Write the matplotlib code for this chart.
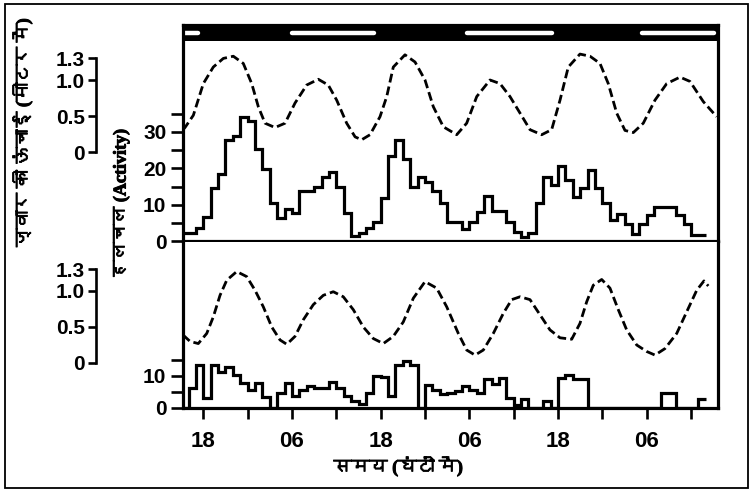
import numpy as np
import matplotlib
matplotlib.use("Agg")
import matplotlib.pyplot as plt
import matplotlib.patheffects as pe
from matplotlib import font_manager, ft2font
from matplotlib.patches import Rectangle

# ---------------- data (time in hours, 0 = first 18:00) ----------------
bin_start = np.arange(-3, 68)
upper_activity = [2.4, 2.4, 3.7, 6.6, 14.6, 18.5, 27.8, 29.0, 34.2, 33.0,
                  25.2, 19.8, 10.5, 6.5, 8.9, 7.8, 13.8, 13.8, 14.8, 17.7,
                  18.9, 14.9, 7.8, 1.5, 2.4, 3.7, 5.3, 11.8, 23.3, 27.8,
                  22.5, 15.0, 17.8, 16.4, 13.8, 10.5, 5.4, 5.4, 3.5, 5.4,
                  8.2, 12.5, 8.4, 8.4, 5.3, 2.6, 1.2, 2.2, 10.5, 17.6,
                  15.5, 20.7, 16.8, 12.3, 14.6, 19.6, 14.6, 10.5, 5.9, 7.5,
                  4.8, 2.1, 4.9, 7.3, 9.5, 9.5, 9.5, 7.3, 4.9, 1.8, 1.8]
lower_activity = [0.0, 6.1, 13.2, 3.1, 13.2, 11.2, 12.6, 10.2, 7.6, 5.6,
                  7.6, 3.3, 0.0, 4.6, 7.6, 3.6, 5.6, 6.6, 6.1, 6.1,
                  8.1, 6.1, 3.6, 2.0, 1.0, 4.6, 10.0, 9.4, 3.6, 13.2,
                  14.7, 13.2, 0.0, 7.1, 5.6, 4.1, 4.6, 5.3, 6.8, 5.6,
                  4.6, 9.0, 7.5, 9.3, 3.1, 0.8, 2.6, 0.0, 0.0, 2.0,
                  0.0, 9.3, 10.2, 9.0, 9.0, 0.0, 0.0, 0.0, 0.0, 0.0,
                  0.0, 0.0, 0.0, 0.0, 0.0, 4.6, 4.6, 0.0, 0.0, 0.0, 2.6]

upper_tide_t = [-2.75, -2.48, -1.35, 0.0, 1.35, 2.71, 4.06, 5.41, 6.55, 7.44,
                8.35, 9.7, 11.06, 12.41, 13.99, 15.56, 16.91, 18.05, 19.4, 20.54,
                21.43, 22.56, 23.91, 24.82, 25.71, 27.29, 28.65, 30.0, 31.12, 32.48,
                34.29, 35.64, 37.0, 38.8, 40.15, 41.5, 42.86, 44.21, 45.79, 47.14,
                48.27, 49.39, 50.97, 52.33, 53.68, 54.8, 55.94, 57.06, 58.19, 59.54,
                61.12, 62.71, 64.51, 65.86, 67.66, 69.47]
upper_tide_h = [0.31, 0.34, 0.51, 0.95, 1.18, 1.30, 1.33, 1.23, 0.95, 0.63,
                0.40, 0.34, 0.40, 0.68, 0.93, 1.01, 0.93, 0.72, 0.40, 0.21,
                0.17, 0.24, 0.49, 0.77, 1.18, 1.35, 1.25, 1.00, 0.63, 0.35,
                0.24, 0.40, 0.77, 1.00, 0.95, 0.77, 0.54, 0.31, 0.24, 0.31,
                0.72, 1.18, 1.36, 1.33, 1.23, 0.95, 0.54, 0.30, 0.27, 0.40,
                0.72, 0.95, 1.04, 0.98, 0.70, 0.49]

lower_tide_t = [-2.75, -1.8, -0.68, 0.46, 1.35, 2.26, 3.17, 4.52, 5.87, 7.0,
                8.12, 9.26, 10.38, 11.29, 12.41, 13.53, 14.88, 16.24, 17.59, 18.94,
                20.3, 21.65, 23.0, 24.36, 25.71, 27.06, 28.42, 30.0, 31.58, 32.94,
                34.51, 35.64, 36.77, 37.89, 39.24, 40.6, 41.73, 42.86, 44.21, 45.56,
                46.91, 48.27, 49.85, 50.97, 51.88, 52.77, 53.91, 55.03, 56.16, 57.29,
                58.65, 60.0, 61.12, 62.47, 64.06, 65.41, 66.77, 67.75, 68.34]
lower_tide_h = [0.39, 0.30, 0.27, 0.41, 0.64, 0.94, 1.15, 1.27, 1.20, 1.01,
                0.78, 0.50, 0.32, 0.26, 0.37, 0.60, 0.81, 0.94, 0.99, 0.92,
                0.74, 0.50, 0.34, 0.27, 0.37, 0.57, 0.90, 1.13, 1.04, 0.78,
                0.41, 0.18, 0.11, 0.18, 0.41, 0.69, 0.88, 0.92, 0.88, 0.67,
                0.46, 0.35, 0.33, 0.55, 0.85, 1.08, 1.16, 1.04, 0.74, 0.46,
                0.25, 0.16, 0.11, 0.20, 0.41, 0.71, 1.01, 1.14, 1.07]

light_on = [-2.5, 12.0, 35.7, 59.4]
light_off = [-0.7, 23.1, 47.2, 69.1]

x_major = [0, 12, 24, 36, 48, 60]
x_labels = ["18", "06", "18", "06", "18", "06"]
x_minor = [6, 18, 30, 42, 54, 66]
act_up_major = [0, 10, 20, 30]
act_up_minor = [5, 15, 25, 35]
act_lo_major = [0, 10]
act_lo_minor = [5, 15]
tide_ticks = [0, 0.5, 1.0, 1.3]
tide_labels = ["0", "0.5", "1.0", "1.3"]

label_tide = "ज्वार की ऊंचाई (मीटर में)"
label_act = "हलचल (Activity)"
label_time = "समय (घंटों में)"

# ---------------- fonts ----------------
def font_with(ch):
    for fe in font_manager.fontManager.ttflist:
        try:
            f = ft2font.FT2Font(fe.fname)
            if ord(ch) in f.get_charmap():
                return fe.name
        except Exception:
            continue
    return None

deva = font_with("क")
hindi_fam = ["Liberation Serif"] + ([deva] if deva else []) + ["DejaVu Sans"]
num_font = dict(family="Liberation Sans", weight="bold")
bolden = [pe.withStroke(linewidth=0.7, foreground="black")]

# ---------------- layout helpers ----------------
W, H = 752, 496
fig = plt.figure(figsize=(W / 100, H / 100), dpi=100)
fx = lambda px: px / W
fy = lambda py: 1 - py / H

XL, XR = 183, 718
YT, YM, YB = 25, 241.5, 407.5
X0, X1 = -2.75, 69.65
LW = 2.3

ax_up = fig.add_axes([fx(XL), fy(YM), fx(XR) - fx(XL), fy(YT) - fy(YM)])
ax_lo = fig.add_axes([fx(XL), fy(YB), fx(XR) - fx(XL), fy(YM) - fy(YB)])

up_tide_lim = ((152 - YM) / 72, (152 - YT) / 72)
lo_tide_lim = ((363 - YB) / 72, (363 - YM) / 72)

for ax, act, lim_top, maj, mnr in [(ax_up, upper_activity, 59.3, act_up_major, act_up_minor),
                                   (ax_lo, lower_activity, 52.0, act_lo_major, act_lo_minor)]:
    edges = np.append(bin_start, bin_start[-1] + 1)
    ax.stairs(act, edges, baseline=None, color="black", lw=LW)
    ax.set_xlim(X0, X1)
    ax.set_ylim(0, lim_top)
    ax.set_yticks(maj)
    ax.set_yticks(mnr, minor=True)
    ax.set_yticklabels([str(v) for v in maj], fontsize=15, **num_font)
    ax.tick_params(axis="y", which="both", direction="out", length=9, width=1.9, pad=3)
    for s in ax.spines.values():
        s.set_linewidth(LW)

ax_up.set_xticks([])
ax_lo.spines["top"].set_visible(False)
ax_lo.set_xticks(x_major)
ax_lo.set_xticklabels(x_labels, fontsize=16, **num_font)
ax_lo.set_xticks(x_minor, minor=True)
ax_lo.tick_params(axis="x", which="both", direction="out", length=8, width=1.9, pad=9)

# day/night bar
trans = ax_up.get_xaxis_transform()
ax_up.add_patch(Rectangle((X0, 0.926), X1 - X0, 0.074, transform=trans,
                          facecolor="black", edgecolor="none", clip_on=True))
for a, b in zip(light_on, light_off):
    ax_up.plot([a, b], [0.963, 0.963], transform=trans, color="white",
               lw=3.2, solid_capstyle="round")

# tide curves on twin axes
for ax, tt, hh, lim in [(ax_up, upper_tide_t, upper_tide_h, up_tide_lim),
                        (ax_lo, lower_tide_t, lower_tide_h, lo_tide_lim)]:
    tw = ax.twinx()
    tw.set_ylim(*lim)
    tw.set_xlim(X0, X1)
    tw.plot(tt, hh, color="black", lw=2.0, linestyle=(0, (3.2, 1.5)))
    tw.set_yticks([])
    for s in tw.spines.values():
        s.set_visible(False)

# tide scale axes
for top, bot, lim in [(YT, YM, up_tide_lim), (YM, YB, lo_tide_lim)]:
    sc = fig.add_axes([fx(96), fy(bot), 0.0005, fy(top) - fy(bot)])
    sc.patch.set_visible(False)
    sc.set_ylim(*lim)
    for k in ["top", "right", "bottom"]:
        sc.spines[k].set_visible(False)
    sc.spines["left"].set_bounds(0, 1.3)
    sc.spines["left"].set_linewidth(1.9)
    sc.set_xticks([])
    sc.set_yticks(tide_ticks)
    sc.set_yticklabels(tide_labels, fontsize=15, **num_font)
    sc.tick_params(axis="y", direction="out", length=6, width=1.9, pad=2)

# labels
for x, y, txt, rot in [(22, 133, label_tide, 90), (121, 204, label_act, 90),
                       (398, 466, label_time, 0)]:
    fig.text(fx(x), fy(y), txt, rotation=rot, ha="center", va="center",
             fontsize=13, fontweight="bold", family=hindi_fam, path_effects=bolden)

# outer frame
fig.add_artist(Rectangle((fx(5), fy(488)), fx(748) - fx(5), fy(4) - fy(488),
                         transform=fig.transFigure, fill=False, edgecolor="black", lw=1.3))

fig.savefig("out.png", dpi=100)
